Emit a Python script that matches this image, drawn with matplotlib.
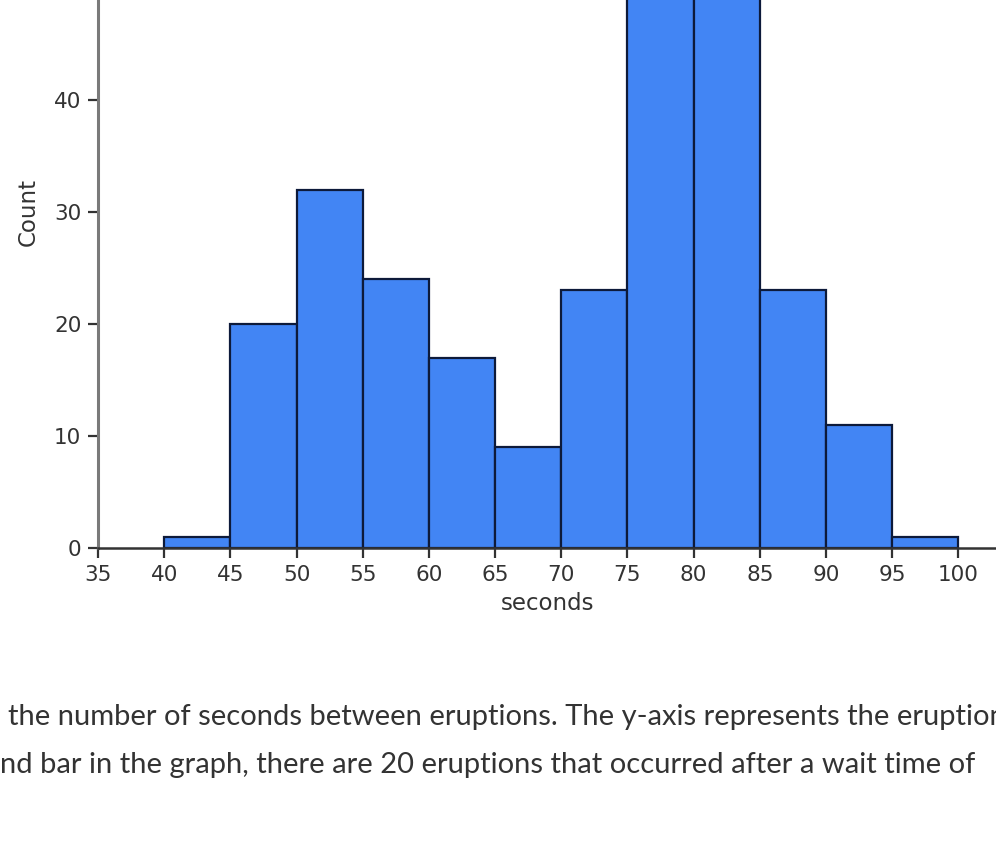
import matplotlib.pyplot as plt

plt.rcParams['font.family'] = ['DejaVu Sans']

# datos del histograma (espera entre erupciones)
bin_edges = [40, 45, 50, 55, 60, 65, 70, 75, 80, 85, 90, 95, 100]
counts = [1, 20, 32, 24, 17, 9, 23, 55, 56, 23, 11, 1]
xticks = list(range(35, 105, 5))
yticks = [0, 10, 20, 30, 40, 50]

line1 = "the number of seconds between eruptions. The y-axis represents the eruptions"
line2 = "nd bar in the graph, there are 20 eruptions that occurred after a wait time of"

W, H = 996, 859
fig = plt.figure(figsize=(W / 100, H / 100), dpi=100)

# ejes que se salen por arriba y a la derecha (captura recortada)
x0, x1 = 35, 103
y0, y1 = 0, 60
left_px, bottom_px = 98, 548
right_px, top_px = 998, -124
ax = fig.add_axes([left_px / W, (H - bottom_px) / H,
                   (right_px - left_px) / W, (bottom_px - top_px) / H])

widths = [bin_edges[i + 1] - bin_edges[i] for i in range(len(counts))]
ax.bar(bin_edges[:-1], counts, width=widths, align="edge",
       color="#4285f4", edgecolor="#0d1a3a", linewidth=1.6)

ax.set_xlim(x0, x1)
ax.set_ylim(y0, y1)
ax.set_xticks(xticks)
ax.set_yticks(yticks)
ax.tick_params(labelsize=15.5, colors="#333333", length=7, width=1.6, pad=5)
ax.set_xlabel("seconds", fontsize=16.5, color="#333333", labelpad=5)
ax.set_ylabel("Count", fontsize=16.5, color="#333333", labelpad=10)

for s in ["top", "right"]:
    ax.spines[s].set_visible(False)
ax.spines["left"].set_color("#7a7a7a")
ax.spines["left"].set_linewidth(2.2)
ax.spines["bottom"].set_color("#333333")
ax.spines["bottom"].set_linewidth(1.8)

# texto de la página debajo del gráfico
fig.text(8 / W, 1 - 717 / H, line1, fontsize=21, family="Lato",
         color="#333333", va="center", ha="left")
fig.text(0 / W, 1 - 765 / H, line2, fontsize=21, family="Lato",
         color="#333333", va="center", ha="left")

fig.savefig("out.png", dpi=100)
